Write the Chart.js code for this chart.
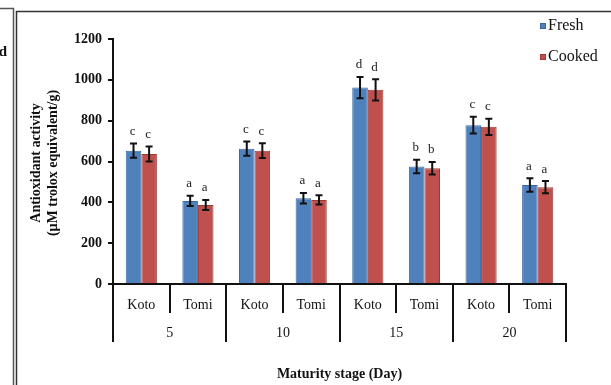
<!DOCTYPE html>
<html>
<head>
<meta charset="utf-8">
<script src="https://cdn.jsdelivr.net/npm/chart.js@4/dist/chart.umd.min.js"></script>
<style>
  html, body { margin: 0; padding: 0; background: #fff; }
  #wrap { width: 611px; height: 385px; position: relative; }
</style>
</head>
<body>
<div id="wrap"><canvas id="c" width="611" height="385"></canvas></div>
<script>
// Cultivars within each maturity stage
const cultivars = ['Koto', 'Tomi', 'Koto', 'Tomi', 'Koto', 'Tomi', 'Koto', 'Tomi'];
// Maturity stages (days)
const stages = ['5', '10', '15', '20'];
// Antioxidant activity (µM trolox equivalent/g)
const fresh  = [653, 407, 663, 420, 962, 575, 778, 485];
const cooked = [637, 387, 653, 412, 951, 567, 770, 474];
// Standard deviations
const freshErr  = [35, 25, 35, 26, 52, 33, 41, 33];
const cookedErr = [37, 25, 36, 23, 52, 31, 40, 30];
// Significance letters
const freshLetters  = ['c', 'a', 'c', 'a', 'd', 'b', 'c', 'a'];
const cookedLetters = ['c', 'a', 'c', 'a', 'd', 'b', 'c', 'a'];
// Y axis ticks
const yTicks = [0, 200, 400, 600, 800, 1000, 1200];

const SERIF = '"Liberation Serif", "Times New Roman", serif';

const decorations = {
  id: 'decorations',
  afterDatasetsDraw(chart) {
    const ctx = chart.ctx;
    const x = chart.scales.x, y = chart.scales.y;
    const area = chart.chartArea;
    ctx.save();

    // error bars and letters
    const errs = [freshErr, cookedErr];
    const letters = [freshLetters, cookedLetters];
    chart.data.datasets.forEach((ds, di) => {
      const meta = chart.getDatasetMeta(di);
      meta.data.forEach((bar, i) => {
        const v = ds.data[i], e = errs[di][i];
        const yt = y.getPixelForValue(v + e), yb = y.getPixelForValue(v - e);
        const cx = bar.x;
        ctx.strokeStyle = '#111';
        ctx.lineWidth = 2;
        ctx.beginPath();
        ctx.moveTo(cx, yt); ctx.lineTo(cx, yb);
        ctx.moveTo(cx - 3.5, yt); ctx.lineTo(cx + 3.5, yt);
        ctx.moveTo(cx - 3.5, yb); ctx.lineTo(cx + 3.5, yb);
        ctx.stroke();
        ctx.fillStyle = '#222';
        ctx.font = '13px ' + SERIF;
        ctx.textAlign = 'center';
        ctx.textBaseline = 'middle';
        ctx.fillText(letters[di][i], cx - 1, yt - 12);
      });
    });

    // category dividers and labels below the axis
    const n = cultivars.length;
    const step = (area.right - area.left) / n;
    ctx.strokeStyle = '#111';
    ctx.lineWidth = 2;
    ctx.beginPath();
    for (let i = 0; i <= n; i++) {
      const px = Math.round(area.left + i * step);
      const major = i % 2 === 0;
      ctx.moveTo(px, area.bottom);
      ctx.lineTo(px, area.bottom + (major ? 58 : 29));
    }
    ctx.stroke();

    ctx.fillStyle = '#111';
    ctx.font = '14px ' + SERIF;
    ctx.textAlign = 'center';
    ctx.textBaseline = 'middle';
    cultivars.forEach((c, i) => {
      ctx.fillText(c, x.getPixelForValue(i), area.bottom + 21);
    });
    stages.forEach((s, g) => {
      ctx.fillText(s, area.left + (g * 2 + 1) * step, area.bottom + 49);
    });

    ctx.font = 'bold 14px ' + SERIF;
    ctx.fillText('Maturity stage (Day)', (area.left + area.right) / 2, 374);

    // y title
    ctx.save();
    ctx.translate(36, 163);
    ctx.rotate(-Math.PI / 2);
    ctx.font = 'bold 14px ' + SERIF;
    ctx.fillText('Antioxidant activity', 0, 0);
    ctx.fillText('(µM trolox equivalent/g)', 0, 17);
    ctx.restore();

    // legend
    ctx.font = '16px ' + SERIF;
    ctx.textAlign = 'left';
    const legendY = [26, 57];
    chart.data.datasets.forEach((ds, di) => {
      const ly = legendY[di];
      ctx.fillStyle = ds.backgroundColor;
      ctx.fillRect(540, ly - 3, 6, 6);
      ctx.strokeStyle = ds.borderColor;
      ctx.lineWidth = 1;
      ctx.strokeRect(540.5, ly - 2.5, 5, 5);
      ctx.fillStyle = '#111';
      ctx.fillText(ds.label, 548, ly);
    });

    // panel frames
    ctx.strokeStyle = '#555';
    ctx.lineWidth = 1.5;
    ctx.beginPath();
    ctx.moveTo(0, 8.5); ctx.lineTo(13.5, 8.5); ctx.lineTo(13.5, 385);
    ctx.stroke();
    ctx.strokeStyle = '#333';
    ctx.beginPath();
    ctx.moveTo(16.5, 385); ctx.lineTo(16.5, 11.5); ctx.lineTo(611, 11.5);
    ctx.stroke();
    ctx.fillStyle = '#111';
    ctx.font = 'bold 15px ' + SERIF;
    ctx.textAlign = 'right';
    ctx.fillText('d', 7, 52);

    ctx.restore();
  }
};

new Chart(document.getElementById('c'), {
  type: 'bar',
  data: {
    labels: cultivars,
    datasets: [
      { label: 'Fresh', data: fresh, backgroundColor: '#4f81bd', borderColor: '#3b68a3', borderWidth: 1 },
      { label: 'Cooked', data: cooked, backgroundColor: '#c0504d', borderColor: '#9e3936', borderWidth: 1 }
    ]
  },
  options: {
    responsive: false,
    animation: false,
    events: [],
    layout: { padding: { left: 0, top: 39, right: 45, bottom: 0 } },
    datasets: { bar: { categoryPercentage: 0.55, barPercentage: 1 } },
    plugins: { legend: { display: false }, tooltip: { enabled: false }, title: { display: false } },
    scales: {
      x: {
        grid: { display: false },
        border: { display: true, color: '#111', width: 2 },
        ticks: { display: false },
        afterFit(s) { s.height = 101; }
      },
      y: {
        min: 0, max: 1200,
        afterBuildTicks(s) { s.ticks = yTicks.map(v => ({ value: v })); },
        grid: { drawOnChartArea: false, drawTicks: true, tickLength: 5, color: '#111', lineWidth: 2 },
        border: { display: true, color: '#111', width: 2 },
        ticks: {
          color: '#111', padding: 6,
          font: { family: SERIF, size: 14, weight: 'bold' },
          callback: v => String(v)
        },
        afterFit(s) { s.width = 113; }
      }
    }
  },
  plugins: [decorations]
});
</script>
</body>
</html>
